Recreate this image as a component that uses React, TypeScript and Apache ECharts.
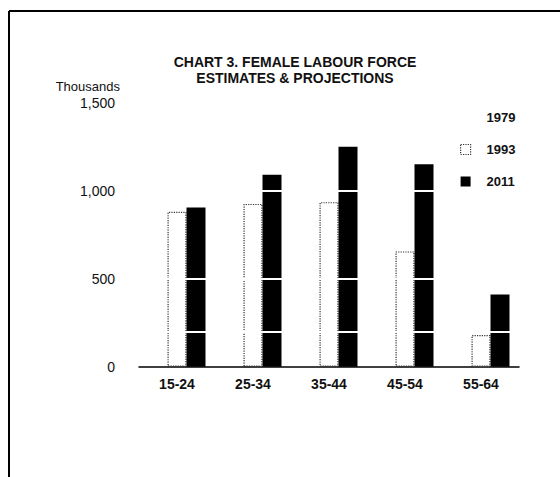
import React, { useEffect, useRef } from "react";
import * as echarts from "echarts";

const categories = ["15-24", "25-34", "35-44", "45-54", "55-64"];
const values1979: (number | null)[] = [null, null, null, null, null];
const values1993 = [880, 925, 935, 655, 180];
const values2011 = [905, 1090, 1250, 1150, 410];
const whiteRules = [200, 500, 1000];
const titleLines = ["CHART 3. FEMALE LABOUR FORCE", "ESTIMATES & PROJECTIONS"];

const FONT = "'Liberation Sans', Arial, Helvetica, sans-serif";

export default function App() {
  const ref = useRef<HTMLDivElement>(null);
  useEffect(() => {
    if (!ref.current) return;
    const chart = echarts.init(ref.current, null, { renderer: "svg" });
    chart.setOption({
      animation: false,
      backgroundColor: "#fff",
      title: {
        text: titleLines.join("\n"),
        left: 290,
        top: 49,
        textAlign: "center",
        textStyle: {
          fontFamily: FONT,
          fontSize: 14,
          fontWeight: "bold",
          lineHeight: 16,
          color: "#111",
        },
      },
      legend: {
        orient: "vertical",
        left: 455,
        top: 106,
        itemWidth: 10,
        itemHeight: 10,
        itemGap: 19,
        icon: "rect",
        selectedMode: false,
        textStyle: {
          fontFamily: FONT,
          fontSize: 13,
          fontWeight: "bold",
          color: "#111",
          padding: [0, 0, 0, 11],
        },
        data: [
          { name: "1979", icon: "rect", itemStyle: { color: "rgba(0,0,0,0)", borderWidth: 0 } },
          { name: "1993", icon: "rect", itemStyle: { color: "#fff", borderColor: "#333", borderWidth: 1.2, borderType: "dotted" } },
          { name: "2011", icon: "rect", itemStyle: { color: "#000" } },
        ],
      },
      grid: { left: 139, right: 41, top: 102.7, bottom: 110.3 },
      xAxis: {
        type: "category",
        data: categories,
        axisLine: { lineStyle: { color: "#000", width: 1.5 } },
        axisTick: { show: false },
        axisLabel: {
          fontFamily: FONT,
          fontSize: 14,
          fontWeight: "bold",
          color: "#111",
          margin: 10,
        },
      },
      yAxis: {
        type: "value",
        min: 0,
        max: 1500,
        interval: 500,
        name: "Thousands",
        nameLocation: "end",
        nameGap: 10,
        nameTextStyle: {
          fontFamily: FONT,
          fontSize: 13,
          color: "#111",
          align: "right",
          padding: [0, 19, 0, 0],
        },
        axisLine: { show: false },
        axisTick: { show: false },
        splitLine: { show: false },
        axisLabel: {
          fontFamily: FONT,
          fontSize: 14,
          color: "#111",
          margin: 24,
          formatter: (v: number) => v.toLocaleString("en-US"),
        },
      },
      series: [
        {
          name: "1979",
          type: "bar",
          barWidth: 19,
          barGap: 0,
          data: values1979,
          itemStyle: { color: "rgba(0,0,0,0)" },
        },
        {
          name: "1993",
          type: "bar",
          barWidth: 19,
          barGap: 0,
          data: values1993,
          itemStyle: { color: "#fff", borderColor: "#333", borderWidth: 1.2, borderType: "dotted" },
        },
        {
          name: "2011",
          type: "bar",
          barWidth: 19,
          barGap: 0,
          data: values2011,
          itemStyle: { color: "#000" },
          markLine: {
            silent: true,
            symbol: "none",
            label: { show: false },
            lineStyle: { color: "#fff", width: 2, type: "solid" },
            data: whiteRules.map((v) => ({ yAxis: v })),
          },
        },
      ],
      graphic: [
        { type: "line", shape: { x1: 9, y1: 11, x2: 560, y2: 11 }, style: { stroke: "#000", lineWidth: 2 } },
        { type: "line", shape: { x1: 9, y1: 11, x2: 9, y2: 477 }, style: { stroke: "#000", lineWidth: 2 } },
      ],
    });
    return () => chart.dispose();
  }, []);
  return (
    <div
      ref={ref}
      style={{ position: "fixed", left: 0, top: 0, width: 560, height: 477 }}
    />
  );
}
